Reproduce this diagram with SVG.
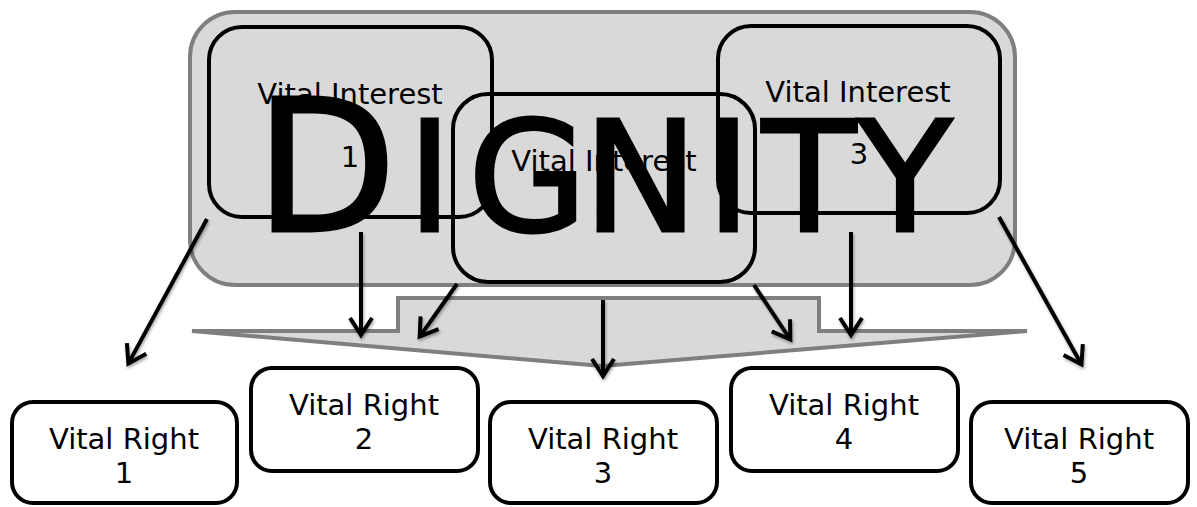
<svg xmlns="http://www.w3.org/2000/svg" width="1197" height="507" viewBox="0 0 1197 507">
<style>
.bg{fill:#d9d9d9;stroke:#7f7f7f;stroke-width:4}
.vi{fill:none;stroke:#000;stroke-width:4}
.vr{fill:#fff;stroke:#000;stroke-width:4}
.t{font-family:"DejaVu Sans",Verdana,sans-serif;font-size:29px;fill:#000;text-anchor:middle}
.big{font-family:"DejaVu Sans",Verdana,sans-serif;font-size:154px;fill:#000;stroke:#000;stroke-width:3}
.conn line{stroke:#000;stroke-width:4;fill:none;marker-end:url(#ah)}
</style>
<defs>
<marker id="ah" markerUnits="userSpaceOnUse" viewBox="0 0 26 26" refX="18" refY="13" markerWidth="26" markerHeight="26" orient="auto">
<path d="M1,2 L18,13 L1,24" fill="none" stroke="#000" stroke-width="4"/>
</marker>
<filter id="sh" x="-10%" y="-10%" width="120%" height="120%">
<feDropShadow dx="1" dy="2" stdDeviation="1.5" flood-color="#000" flood-opacity="0.35"/>
</filter>
</defs>
<rect width="1197" height="507" fill="#fff"/>
<g id="dignity">
<rect class="bg" x="190" y="12" width="825" height="273" rx="45"/>
</g>
<g id="flow">
<polygon class="bg" points="192,331 398,331 398,298 819,298 819,331 1027,331 602,366"/>
</g>
<g id="vi1">
<rect class="vi" x="209" y="27" width="283" height="190" rx="33"/>
<text class="t" x="350" y="104">Vital Interest</text>
<text class="t" x="350" y="167">1</text>
</g>
<g id="vi3">
<rect class="vi" x="718" y="26" width="282" height="187" rx="33"/>
<text class="t" x="858" y="102">Vital Interest</text>
<text class="t" x="859" y="164">3</text>
</g>
<g id="vi2">
<rect class="vi" x="453" y="94" width="302" height="188" rx="35"/>
<text class="t" x="604" y="171">Vital Interest</text>
<text class="t" x="604" y="232">2</text>
</g>
<g id="dignity-label">
<text class="big" y="231"><tspan x="255" font-size="184">D</tspan><tspan x="407 468 583 706 762 858">IGNITY</tspan></text>
</g>
<g id="vr1">
<rect class="vr" x="12" y="402" width="225" height="101" rx="21"/>
<text class="t" x="124" y="449">Vital Right</text>
<text class="t" x="124" y="483">1</text>
</g>
<g id="vr2">
<rect class="vr" x="251" y="368" width="227" height="103" rx="21"/>
<text class="t" x="364" y="415">Vital Right</text>
<text class="t" x="364" y="449">2</text>
</g>
<g id="vr3">
<rect class="vr" x="490" y="402" width="227" height="101" rx="21"/>
<text class="t" x="603" y="449">Vital Right</text>
<text class="t" x="603" y="483">3</text>
</g>
<g id="vr4">
<rect class="vr" x="731" y="368" width="227" height="103" rx="21"/>
<text class="t" x="844" y="415">Vital Right</text>
<text class="t" x="844" y="449">4</text>
</g>
<g id="vr5">
<rect class="vr" x="971" y="402" width="217" height="101" rx="21"/>
<text class="t" x="1079" y="449">Vital Right</text>
<text class="t" x="1079" y="483">5</text>
</g>
<g class="conn" id="connectors" filter="url(#sh)">
<line x1="207" y1="219" x2="128.4" y2="363.4"/>
<line x1="361" y1="232" x2="361" y2="335"/>
<line x1="457" y1="284" x2="419.7" y2="336.6"/>
<line x1="603" y1="300" x2="603" y2="376"/>
<line x1="754" y1="285" x2="790.3" y2="339.5"/>
<line x1="851" y1="232" x2="851" y2="335"/>
<line x1="999" y1="217" x2="1081.5" y2="364.4"/>
</g>
</svg>
